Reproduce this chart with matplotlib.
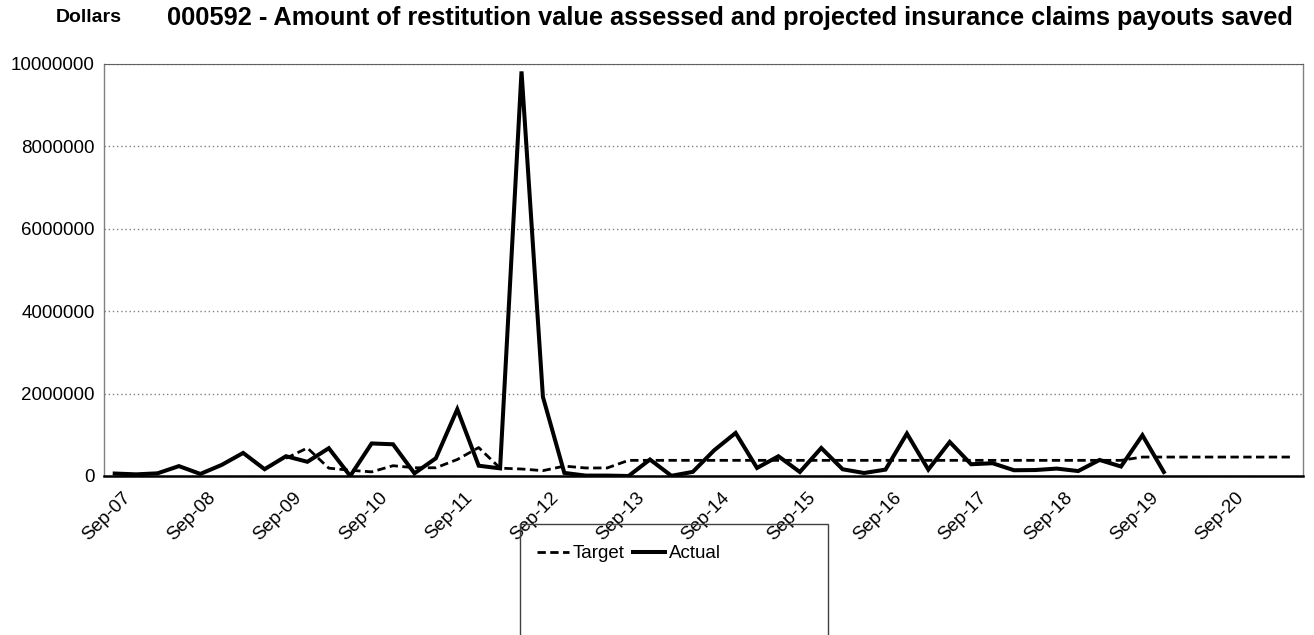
import numpy as np
import matplotlib
matplotlib.use("Agg")
import matplotlib.pyplot as plt
import matplotlib.transforms as mtransforms
from matplotlib.patches import Rectangle

plt.rcParams['font.family'] = ['Liberation Sans', 'DejaVu Sans']

# quarterly series, Sep-07 onwards
actual = [60000, 40000, 65000, 240000, 50000, 270000, 560000, 165000,
          480000, 345000, 675000, 0, 790000, 770000, 65000, 430000,
          1620000, 250000, 185000, 9820000, 1920000, 75000, 10000, 10000,
          0, 400000, 5000, 100000, 625000, 1045000, 195000, 480000,
          97000, 680000, 163000, 73000, 155000, 1030000, 155000, 826000,
          285000, 310000, 140000, 145000, 180000, 120000, 390000, 230000,
          990000, 97000]
target = [None] * 8 + [430000, 680000, 190000, 140000, 100000, 250000, 200000, 200000,
                      400000, 690000, 190000, 170000, 130000, 240000, 195000, 195000] \
         + [380000] * 24 + [460000] * 8
tick_labels = ['Sep-07', 'Sep-08', 'Sep-09', 'Sep-10', 'Sep-11', 'Sep-12', 'Sep-13',
               'Sep-14', 'Sep-15', 'Sep-16', 'Sep-17', 'Sep-18', 'Sep-19', 'Sep-20']

n = len(target)
tgt = np.array([np.nan if v is None else v for v in target], dtype=float)

fig = plt.figure(figsize=(13.14, 6.35), dpi=100)
ax = fig.add_axes([104/1314, 1-476/635, (1303-104)/1314, (476-64)/635])

ax.plot(np.arange(n), tgt, color='black', lw=2, dashes=(3, 1.6), label='Target')
ax.plot(np.arange(len(actual)), actual, color='black', lw=2.9, label='Actual',
        solid_joinstyle='miter')

ax.set_xlim(-0.5, n - 0.5)
ax.set_ylim(0, 10000000)
ax.set_yticks(np.arange(0, 10000001, 2000000))
ax.set_yticklabels(['%d' % v for v in np.arange(0, 10000001, 2000000)])
ax.set_xticks(np.arange(0, 4 * len(tick_labels), 4))
ax.set_xticklabels(tick_labels, rotation=45, ha='right', va='top',
                   rotation_mode='anchor')
ax.tick_params(axis='both', length=0, labelsize=13.5)
ax.tick_params(axis='y', pad=6.5)
ax.tick_params(axis='x', pad=7)

# nudge the slanted date labels to the right and down a little
shift = mtransforms.ScaledTranslation(7/100, -3/100, fig.dpi_scale_trans)
for lab in ax.get_xticklabels():
    lab.set_transform(lab.get_transform() + shift)

ax.yaxis.grid(True, color='#808080', linestyle=(0, (1, 2)), lw=1)
for s in ['left', 'right']:
    ax.spines[s].set_color('#808080')
    ax.spines[s].set_linewidth(1)
ax.spines['top'].set_color('#606060')
ax.spines['top'].set_linestyle((0, (1, 1)))
ax.spines['bottom'].set_color('black')
ax.spines['bottom'].set_linewidth(1.8)

fig.text(56/1314, 1-18/635, 'Dollars', fontsize=14, fontweight='bold',
         ha='left', va='center')
fig.text(167/1314, 1-18/635,
         '000592 - Amount of restitution value assessed and projected insurance claims payouts saved',
         fontsize=18.3, fontweight='bold', ha='left', va='center')

leg = fig.legend(loc='upper left', bbox_to_anchor=(537/1314, 1-545/635), ncol=2,
                 frameon=False, fontsize=13.5, handlelength=1.7, handletextpad=0.2,
                 columnspacing=0.45, borderpad=0, borderaxespad=0)
fig.add_artist(Rectangle((520/1314, -0.1), (828-520)/1314, 0.1 + (635-524)/635,
                         transform=fig.transFigure, fill=False, edgecolor='#404040',
                         lw=1))

fig.savefig('out.png', dpi=100)
